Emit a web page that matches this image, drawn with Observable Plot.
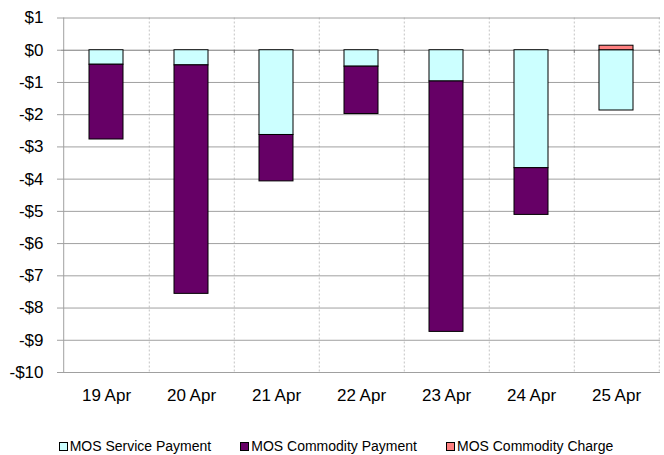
<!DOCTYPE html>
<html><head><meta charset="utf-8">
<script src="https://cdn.jsdelivr.net/npm/d3@7"></script>
<script src="https://cdn.jsdelivr.net/npm/@observablehq/plot@0.6"></script>
<style>
body{margin:0;background:#fff;font-family:"Liberation Sans",Arial,sans-serif;}
#chart{width:664px;}
#legend{display:flex;justify-content:center;gap:29px;font-size:14px;margin-top:18px;line-height:16px;color:#000;padding-left:8px;}
#legend .item{display:flex;align-items:center;}
#legend .sw{width:7px;height:7px;border:1px solid #000;margin-right:2px;}
</style></head><body><div id="chart"></div><div id="legend"></div><script>
const dates = ["19 Apr","20 Apr","21 Apr","22 Apr","23 Apr","24 Apr","25 Apr"];
const serviceValues = [-0.45, -0.47, -2.63, -0.51, -0.97, -3.66, -1.87];
const commodityValues = [-2.32, -7.09, -1.44, -1.47, -7.77, -1.45, 0];
const chargeValues = [0, 0, 0, 0, 0, 0, 0.14];
const seriesNames = ["MOS Service Payment","MOS Commodity Payment","MOS Commodity Charge"];
const seriesColors = ["#CCFFFF","#660066","#FF8080"];
const yTicks = [-10,-9,-8,-7,-6,-5,-4,-3,-2,-1,0,1];

const rows = [];
[serviceValues, commodityValues, chargeValues].forEach((vals, s) =>
  vals.forEach((v, i) => { if (v !== 0) rows.push({date: dates[i], series: seriesNames[s], value: v}); }));

const W = 664, H = 420, mL = 61, mR = 4, mT = 17.5, mB = 48;
const step = (W - mL - mR) / dates.length;
const fmt = d => d < 0 ? `-$${-d}` : `$${d}`;

const chart = Plot.plot({
  width: W, height: H, marginLeft: mL, marginRight: mR, marginTop: mT, marginBottom: mB,
  style: {fontFamily: "'Liberation Sans', Arial, sans-serif", fontSize: "17px", color: "#000", background: "#fff"},
  x: {domain: dates, paddingInner: 0.6, paddingOuter: 0.3, label: null},
  y: {domain: [-10, 1], label: null},
  color: {domain: seriesNames, range: seriesColors},
  marks: [
    Plot.ruleX(dates, {x: d => d, dx: step / 2, stroke: "#c4c4c4", strokeDasharray: "2,2"}),
    Plot.ruleY(yTicks.filter(t => t !== 0), {y: d => d, stroke: "#a0a0a0"}),
    Plot.ruleX([dates[0]], {x: d => d, dx: -step / 2, stroke: "#a0a0a0"}),
    Plot.axisY({ticks: yTicks, tickSize: 4, tickPadding: 14, tickFormat: fmt, stroke: "#a0a0a0", fill: "#000", label: null}),
    Plot.ruleY([0], {y: d => d, stroke: "#7a7a7a"}),
    Plot.ruleX(dates, {x: d => d, dx: step / 2, y1: 0, y2: -0.1, stroke: "#7a7a7a"}),
    Plot.barY(rows, {x: "date", y: "value", fill: "series", stroke: "#000", strokeWidth: 1}),
    Plot.axisX({tickSize: 0, tickPadding: 16, fill: "#000", label: null})
  ]
});
document.getElementById("chart").appendChild(chart);

const legend = document.getElementById("legend");
seriesNames.forEach((name, i) => {
  const item = document.createElement("div");
  item.className = "item";
  const sw = document.createElement("span");
  sw.className = "sw";
  sw.style.background = seriesColors[i];
  const t = document.createElement("span");
  t.textContent = name;
  item.appendChild(sw); item.appendChild(t);
  legend.appendChild(item);
});
</script></body></html>
